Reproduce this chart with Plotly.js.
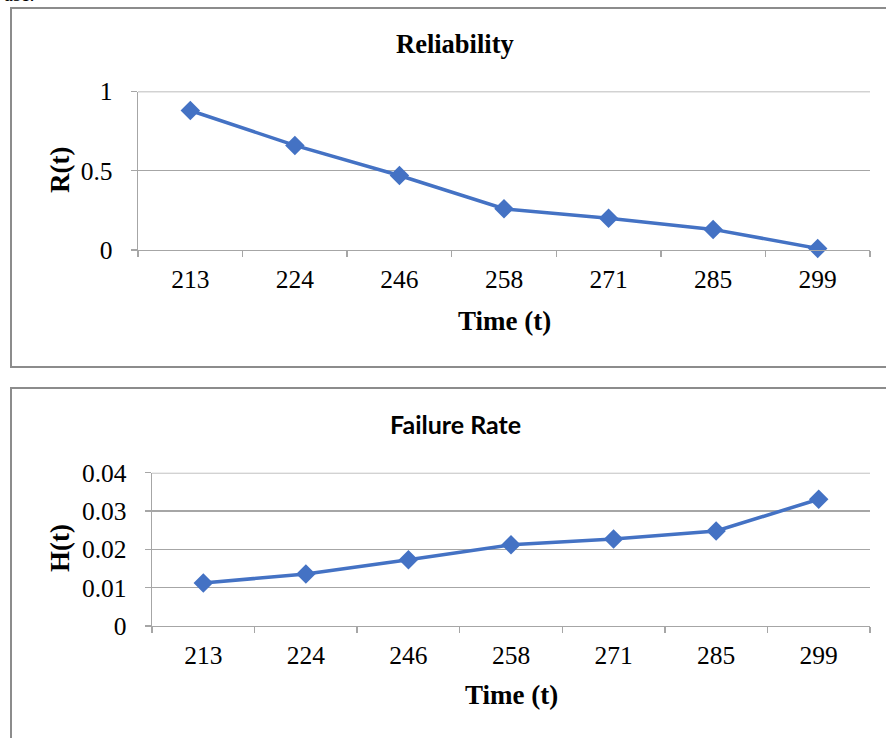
<!DOCTYPE html>
<html>
<head>
<meta charset="utf-8">
<script src="https://cdn.plot.ly/plotly-3.0.1.min.js"></script>
<style>html,body{margin:0;padding:0;background:#fff;}#chart{width:886px;height:738px;}</style>
</head>
<body>
<div id="chart"></div>
<script>
// Data
var timeLabels = ['213', '224', '246', '258', '271', '285', '299'];
var reliability = [0.88, 0.66, 0.47, 0.26, 0.20, 0.13, 0.01];
var failureRate = [0.0112, 0.0136, 0.0173, 0.0212, 0.0227, 0.0248, 0.0331];
var relTicks = [0, 0.5, 1];
var relTickText = ['0', '0.5', '1'];
var frTicks = [0, 0.01, 0.02, 0.03, 0.04];
var frTickText = ['0', '0.01', '0.02', '0.03', '0.04'];

var W = 886, H = 738;
function px(x) { return x / W; }
function py(y) { return 1 - y / H; }

var blue = '#4472C4';
var gray = '#A6A6A6';
var serif = 'Liberation Serif, Times New Roman, serif';

var traces = [
  {x: timeLabels, y: reliability, xaxis: 'x', yaxis: 'y', type: 'scatter', mode: 'lines+markers',
   line: {color: blue, width: 3.5}, marker: {symbol: 'diamond', size: 15, color: blue}, cliponaxis: false, hoverinfo: 'none'},
  {x: timeLabels, y: failureRate, xaxis: 'x2', yaxis: 'y2', type: 'scatter', mode: 'lines+markers',
   line: {color: blue, width: 3.5}, marker: {symbol: 'diamond', size: 15, color: blue}, cliponaxis: false, hoverinfo: 'none'}
];

function xAxis(domain, anchor) {
  return {type: 'category', domain: domain, anchor: anchor, range: [-0.5, 6.5],
    tickson: 'boundaries', ticks: 'outside', ticklen: 6, tickwidth: 1.3, tickcolor: gray,
    showline: true, linecolor: gray, linewidth: 1.3, showgrid: false, zeroline: false,
    tickfont: {family: serif, size: 25.5, color: '#000'}, ticklabelstandoff: 6, fixedrange: true};
}
function yAxis(domain, anchor, range, tv, tt) {
  return {domain: domain, anchor: anchor, range: range, tickvals: tv, ticktext: tt,
    ticks: 'outside', ticklen: 6, tickwidth: 1.3, tickcolor: gray,
    showline: true, linecolor: gray, linewidth: 1.3, showgrid: true, gridcolor: gray, gridwidth: 1.3,
    zeroline: false, tickfont: {family: serif, size: 25.5, color: '#000'}, ticklabelstandoff: 13, fixedrange: true};
}

var layout = {
  width: W, height: H,
  margin: {l: 0, r: 0, t: 0, b: 0, pad: 0},
  paper_bgcolor: '#fff', plot_bgcolor: '#fff',
  showlegend: false,
  xaxis: xAxis([px(138), px(870)], 'y'),
  yaxis: yAxis([py(250), py(91.5)], 'x', [0, 1], relTicks, relTickText),
  xaxis2: xAxis([px(152), px(870)], 'y2'),
  yaxis2: yAxis([py(626), py(472.8)], 'x2', [0, 0.04], frTicks, frTickText),
  shapes: [
    {type: 'rect', xref: 'paper', yref: 'paper', x0: px(11), x1: px(900), y0: py(367), y1: py(8),
     line: {color: '#8c8c8c', width: 2}, fillcolor: 'rgba(0,0,0,0)', layer: 'below'},
    {type: 'rect', xref: 'paper', yref: 'paper', x0: px(11), x1: px(900), y0: py(760), y1: py(388),
     line: {color: '#8c8c8c', width: 2}, fillcolor: 'rgba(0,0,0,0)', layer: 'below'},
    // top gridline of each value axis (Plotly drops the grid line at the range edge)
    {type: 'line', xref: 'x domain', yref: 'y', x0: 0, x1: 1, y0: relTicks[relTicks.length - 1], y1: relTicks[relTicks.length - 1],
     line: {color: gray, width: 1.3}, layer: 'below'},
    {type: 'line', xref: 'x2 domain', yref: 'y2', x0: 0, x1: 1, y0: frTicks[frTicks.length - 1], y1: frTicks[frTicks.length - 1],
     line: {color: gray, width: 1.3}, layer: 'below'}
  ],
  annotations: [
    {text: '<b>Reliability</b>', xref: 'paper', yref: 'paper', x: px(455), y: py(44), xanchor: 'center', yanchor: 'middle',
     showarrow: false, font: {family: serif, size: 26.5, color: '#000'}},
    {text: '<b>Time (t)</b>', xref: 'paper', yref: 'paper', x: px(504), y: py(321), xanchor: 'center', yanchor: 'middle',
     showarrow: false, font: {family: serif, size: 27, color: '#000'}},
    {text: '<b>R(t)</b>', xref: 'paper', yref: 'paper', x: px(60), y: py(170), xanchor: 'center', yanchor: 'middle',
     textangle: -90, showarrow: false, font: {family: serif, size: 27, color: '#000'}},
    {text: '<b>Failure Rate</b>', xref: 'paper', yref: 'paper', x: px(455), y: py(424), xanchor: 'center', yanchor: 'middle',
     showarrow: false, font: {family: 'Lato, Open Sans, sans-serif', size: 25, color: '#000'}},
    {text: '<b>Time (t)</b>', xref: 'paper', yref: 'paper', x: px(511), y: py(695), xanchor: 'center', yanchor: 'middle',
     showarrow: false, font: {family: serif, size: 27, color: '#000'}},
    {text: '<b>H(t)</b>', xref: 'paper', yref: 'paper', x: px(60), y: py(548), xanchor: 'center', yanchor: 'middle',
     textangle: -90, showarrow: false, font: {family: serif, size: 27, color: '#000'}},
    {text: 'ase.', xref: 'paper', yref: 'paper', x: px(2), y: py(-6), xanchor: 'left', yanchor: 'middle',
     showarrow: false, font: {family: serif, size: 20, color: '#000'}}
  ]
};

Plotly.newPlot('chart', traces, layout, {displayModeBar: false, staticPlot: true});
</script>
</body>
</html>
